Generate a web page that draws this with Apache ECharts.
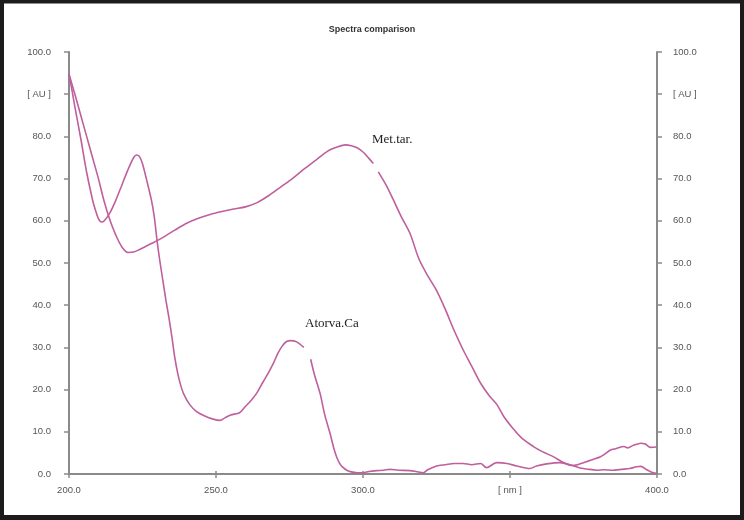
<!DOCTYPE html>
<html>
<head>
<meta charset="utf-8">
<script src="https://cdn.jsdelivr.net/npm/echarts@6/dist/echarts.min.js"></script>
<style>
  body { margin: 0; background: #fff; }
  #main { width: 744px; height: 520px; }
</style>
</head>
<body>
<div id="main"></div>
<script>
// Met.tar. spectrum (null = small break in the trace)
const metNm = [200, 202, 204, 206, 208, 210, 212, 214, 216, 218, 220, 222, 224, 226, 228, 230, 233, 236, 240, 244, 248, 252, 256, 260, 264, 268, 272, 276, 280, 284, 288, 291, 294, 296, 298, 300, 302, 303.5, 304.3, 305.2, 308, 310.3, 313, 316, 319, 322, 325, 328, 331, 334, 337, 340, 343, 345.5, 348, 351, 354, 358, 361, 365, 368, 371, 373, 376, 378, 380.8, 382, 384.2, 386, 388.8, 390, 392, 394.5, 396, 397.8, 400];
const metAu = [94.8, 90, 85, 80, 75, 70, 64.5, 60, 56.5, 53.8, 52.5, 52.6, 53.2, 53.9, 54.6, 55.3, 56.5, 57.8, 59.4, 60.6, 61.5, 62.2, 62.8, 63.3, 64.3, 66, 68, 70, 72.3, 74.4, 76.5, 77.4, 78, 77.8, 77.3, 76.3, 74.8, 73.6, null, 71.6, 68.3, 65, 61, 57, 51, 47, 43.5, 39, 34, 29.5, 25.5, 21.5, 18.5, 16.5, 13.5, 10.8, 8.5, 6.5, 5.3, 4, 2.8, 2, 2.2, 2.9, 3.4, 4.1, 4.6, 5.7, 6, 6.5, 6.2, 6.8, 7.3, 7.1, 6.3, 6.4];

// Atorva.Ca spectrum
const atoNm = [200, 201, 202, 204, 206, 208, 209, 210, 211, 212, 214, 216, 218, 220, 222, 223, 224, 225, 226.4, 228, 229, 230, 231, 232, 233, 234, 235, 236, 237, 238, 239, 241, 243.4, 246, 249, 251.4, 253, 255, 258, 260, 262, 263.8, 266, 268, 269.5, 271, 272.5, 274, 275.5, 277.4, 279.9, 281, 282.2, 283.5, 285.4, 287, 288.8, 290, 291, 292, 293, 294.5, 296, 298, 300, 302, 304.6, 307, 309.2, 312, 316, 318, 320.5, 322, 325, 328, 331, 334, 337, 340, 342, 345.5, 349, 352.3, 356.8, 359, 362.5, 367, 370.4, 373.8, 376, 379.5, 382, 385, 388, 390.8, 393, 394.5, 396.5, 398, 400];
const atoAu = [94.5, 91, 87, 79.5, 71.5, 65, 62.5, 60.5, 59.7, 60, 62, 65, 68.5, 72, 75, 75.6, 75.2, 73.5, 69.7, 65, 61, 55, 50, 45.5, 41, 37, 32.5, 27.5, 23.8, 21, 19, 16.5, 14.8, 13.8, 13, 12.7, 13.3, 14, 14.5, 16, 17.5, 19.1, 21.8, 24.2, 26.2, 28.5, 30.3, 31.4, 31.6, 31.3, 30, null, 27.2, 23.5, 19.1, 14, 9.6, 6.3, 4.1, 2.6, 1.7, 0.9, 0.5, 0.3, 0.3, 0.6, 0.8, 0.9, 1.1, 0.9, 0.8, 0.6, 0.3, 1, 1.9, 2.2, 2.5, 2.5, 2.2, 2.5, 1.5, 2.7, 2.5, 1.9, 1.3, 1.9, 2.4, 2.7, 2.2, 1.4, 1.2, 0.9, 1, 0.9, 1.1, 1.3, 1.7, 1.8, 1, 0.5, 0.1];

const lineColor = '#bf5f9d';
const axisColor = '#8a8a8a';

function pairs(xs, ys) {
  return xs.map((x, i) => [x, ys[i]]);
}
function yLabel(v) {
  return v === 90 ? '[ AU ]' : v.toFixed(1);
}
function xLabel(v) {
  return v === 350 ? '[ nm ]' : v.toFixed(1);
}

const labelFont = { fontSize: 9.5, color: '#555', fontFamily: 'Liberation Sans, Arial' };

let myChart = echarts.init(document.getElementById('main'));
let option = {
  backgroundColor: '#fff',
  animation: false,
  title: {
    text: 'Spectra comparison',
    left: 'center',
    top: 20,
    textStyle: { fontSize: 9, fontWeight: 'bold', color: '#333', fontFamily: 'Liberation Sans, Arial' }
  },
  grid: { left: 69, right: 87, top: 52, bottom: 46 },
  xAxis: [
    {
      type: 'value', min: 200, max: 400, interval: 50, position: 'bottom',
      axisLine: { lineStyle: { color: axisColor, width: 2 } },
      axisTick: { length: 4, lineStyle: { color: axisColor, width: 1.5 } },
      axisLabel: Object.assign({ formatter: xLabel, margin: 11 }, labelFont),
      splitLine: { show: false }
    },
    {
      type: 'value', min: 200, max: 400, interval: 50, position: 'top',
      axisLine: { lineStyle: { color: axisColor, width: 2 } },
      axisTick: { length: 3, lineStyle: { color: axisColor, width: 1.5 } },
      axisLabel: { show: false },
      splitLine: { show: false }
    }
  ],
  yAxis: [
    {
      type: 'value', min: 0, max: 100, interval: 10, position: 'left',
      axisLine: { show: true, lineStyle: { color: axisColor, width: 2 } },
      axisTick: { show: true, length: 5, lineStyle: { color: axisColor, width: 1.5 } },
      axisLabel: Object.assign({ formatter: yLabel, margin: 18 }, labelFont),
      splitLine: { show: false }
    },
    {
      type: 'value', min: 0, max: 100, interval: 10, position: 'right',
      axisLine: { show: true, lineStyle: { color: axisColor, width: 2 } },
      axisTick: { show: true, length: 5, lineStyle: { color: axisColor, width: 1.5 } },
      axisLabel: Object.assign({ formatter: yLabel, margin: 16 }, labelFont),
      splitLine: { show: false }
    }
  ],
  series: [
    {
      name: 'Met.tar.', type: 'line', data: pairs(metNm, metAu),
      showSymbol: false, connectNulls: false, smooth: 0.3,
      lineStyle: { color: lineColor, width: 1.6 }
    },
    {
      name: 'Atorva.Ca', type: 'line', data: pairs(atoNm, atoAu),
      showSymbol: false, connectNulls: false, smooth: 0.3,
      lineStyle: { color: lineColor, width: 1.6 }
    }
  ],
  graphic: [
    {
      type: 'text', left: 372, top: 133,
      style: { text: 'Met.tar.', font: '13px "Liberation Serif", "DejaVu Serif", serif', fill: '#222' }
    },
    {
      type: 'text', left: 305, top: 317,
      style: { text: 'Atorva.Ca', font: '13px "Liberation Serif", "DejaVu Serif", serif', fill: '#222' }
    },
    {
      // dark frame round the picture
      type: 'rect', silent: true,
      shape: { x: 2, y: 1.5, width: 740, height: 515.5 },
      style: { fill: 'none', stroke: '#1c1c1c', lineWidth: 4 }
    },
    {
      type: 'rect', silent: true,
      shape: { x: 0, y: 516, width: 744, height: 4 },
      style: { fill: '#1c1c1c' }
    }
  ]
};
myChart.setOption(option);
</script>
</body>
</html>
